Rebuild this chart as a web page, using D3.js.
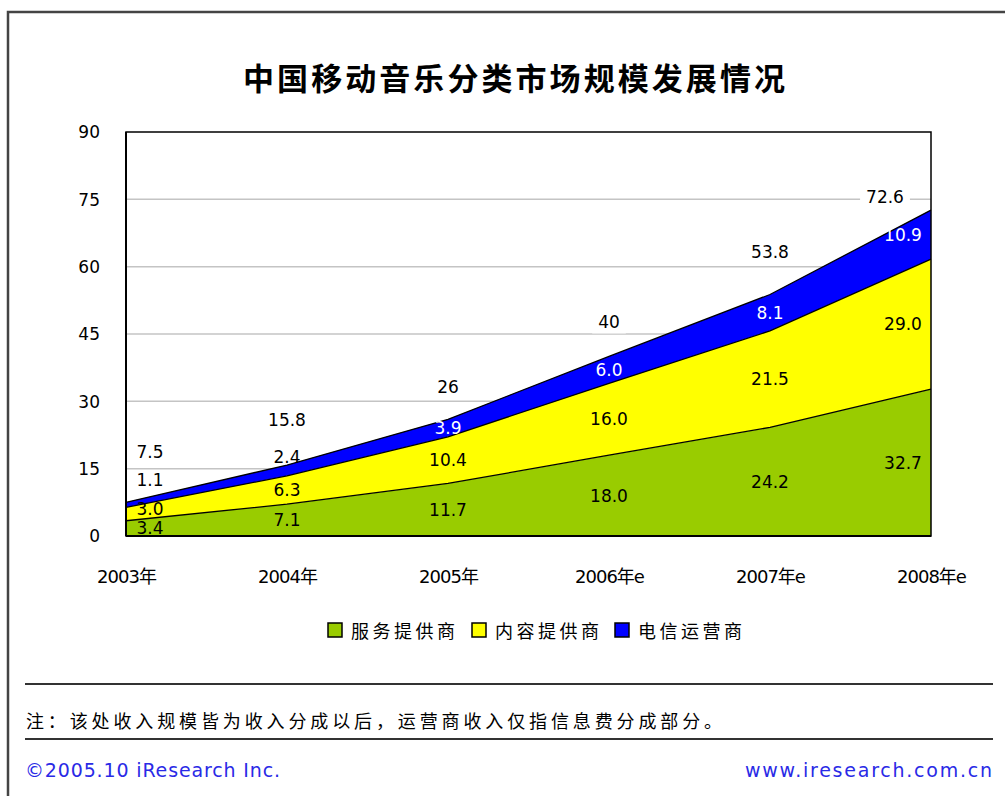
<!DOCTYPE html>
<html>
<head>
<meta charset="utf-8">
<script src="https://cdn.jsdelivr.net/npm/d3@7/dist/d3.min.js"></script>
<style>
  html, body { margin: 0; padding: 0; background: #fff; }
  svg { display: block; }
</style>
</head>
<body>
<svg id="chart" width="1005" height="796"></svg>
<script>
// ---- data ----
const title = "中国移动音乐分类市场规模发展情况";
const categories = ["2003年", "2004年", "2005年", "2006年e", "2007年e", "2008年e"];
const seriesNames = ["服务提供商", "内容提供商", "电信运营商"];
const serviceProvider = [3.4, 7.1, 11.7, 18.0, 24.2, 32.7];
const contentProvider = [3.0, 6.3, 10.4, 16.0, 21.5, 29.0];
const telecomOperator = [1.1, 2.4, 3.9, 6.0, 8.1, 10.9];
const totalLabels = ["7.5", "15.8", "26", "40", "53.8", "72.6"];
const yTicks = [0, 15, 30, 45, 60, 75, 90];
const note = "注：该处收入规模皆为收入分成以后，运营商收入仅指信息费分成部分。";
const copyright = "©2005.10 iResearch Inc.";
const website = "www.iresearch.com.cn";

// ---- layout / style ----
const colors = ["#99CC00", "#FFFF00", "#0000FF"];
const labelColors = ["#000", "#000", "#fff"];
const plot = { left: 126, right: 931, top: 132, bottom: 536 };
// pixel nudges for labels (layout only)
const totalLabelDy = [-50, -45, -32, -34, -42, -13];
const segLabelDy = [[0, 0, 0, 0, 0, 0], [-5, 0, 0, 0, 0, 0], [-25, -13, 0, 0, 0, 0]];
const outsideBand = [[false, false, false, false, false, false],
                     [false, false, false, false, false, false],
                     [true, true, false, false, false, false]];
const labelDx = i => (i === 0 ? 24 : i === categories.length - 1 ? -28 : 0);
const totalDx = i => (i === 0 ? 24 : i === categories.length - 1 ? -46 : 0);

const numFont = "'DejaVu Sans', Verdana, sans-serif";
const cjkFont = "'DejaVu Sans', 'Noto Sans CJK SC', sans-serif";

const svg = d3.select("#chart");
svg.append("rect").attr("width", 1005).attr("height", 796).attr("fill", "#fff");

// outer frame
svg.append("path")
  .attr("d", "M8,796 L8,12 L1005,12")
  .attr("fill", "none").attr("stroke", "#444").attr("stroke-width", 2.5);

// title
svg.append("text")
  .attr("x", 243).attr("y", 76)
  .attr("dominant-baseline", "central")
  .attr("font-family", "'Noto Sans CJK SC', sans-serif")
  .attr("font-weight", "bold").attr("font-size", 31)
  .attr("textLength", 542).attr("lengthAdjust", "spacing")
  .attr("fill", "#000")
  .text(title);

// scales
const x = d3.scalePoint().domain(categories).range([plot.left, plot.right]);
const y = d3.scaleLinear().domain([0, 90]).range([plot.bottom, plot.top]);

// gridlines
svg.append("g").selectAll("line")
  .data(yTicks.filter(t => t > 0 && t < 90))
  .join("line")
  .attr("x1", plot.left).attr("x2", plot.right)
  .attr("y1", d => y(d)).attr("y2", d => y(d))
  .attr("stroke", "#c4c4c4").attr("stroke-width", 1.5);

// stacked areas
const rows = categories.map((c, i) => ({
  cat: c,
  [seriesNames[0]]: serviceProvider[i],
  [seriesNames[1]]: contentProvider[i],
  [seriesNames[2]]: telecomOperator[i]
}));
const stacked = d3.stack().keys(seriesNames)(rows);
const area = d3.area()
  .x(d => x(d.data.cat))
  .y0(d => y(d[0]))
  .y1(d => y(d[1]));
const line = d3.line()
  .x(d => x(d.data.cat))
  .y(d => y(d[1]));

svg.append("g").selectAll("path")
  .data(stacked)
  .join("path")
  .attr("d", area)
  .attr("fill", (d, i) => colors[i]);

svg.append("g").selectAll("path")
  .data(stacked)
  .join("path")
  .attr("d", line)
  .attr("fill", "none").attr("stroke", "#000").attr("stroke-width", 1.3);

// plot border
svg.append("rect")
  .attr("x", plot.left).attr("y", plot.top)
  .attr("width", plot.right - plot.left).attr("height", plot.bottom - plot.top)
  .attr("fill", "none").attr("stroke", "#000").attr("stroke-width", 1.5);
svg.append("line")
  .attr("x1", plot.left).attr("x2", plot.left)
  .attr("y1", plot.top).attr("y2", plot.bottom)
  .attr("stroke", "#000").attr("stroke-width", 2);
svg.append("line")
  .attr("x1", plot.left).attr("x2", plot.right)
  .attr("y1", plot.bottom).attr("y2", plot.bottom)
  .attr("stroke", "#000").attr("stroke-width", 2);

// y axis labels
const yAxis = d3.axisLeft(y).tickValues(yTicks).tickSize(0).tickPadding(0);
const gy = svg.append("g").attr("transform", `translate(${plot.left - 26},0)`).call(yAxis);
gy.select(".domain").remove();
gy.selectAll("text")
  .attr("font-family", numFont).attr("font-size", 17).attr("fill", "#000")
  .attr("dy", "0.35em");

// x axis labels
const xAxis = d3.axisBottom(x).tickSize(0).tickPadding(0);
const gx = svg.append("g").attr("transform", `translate(0,${plot.bottom + 41})`).call(xAxis);
gx.select(".domain").remove();
gx.selectAll("text")
  .attr("font-family", cjkFont).attr("font-size", 18).attr("fill", "#000")
  .attr("dy", "0.35em").attr("letter-spacing", "-1px");

// segment labels
const segLabelData = [];
stacked.forEach((s, si) => {
  s.forEach((d, i) => {
    segLabelData.push({
      x: x(d.data.cat) + labelDx(i),
      y: y((d[0] + d[1]) / 2) + segLabelDy[si][i],
      text: (d[1] - d[0]).toFixed(1),
      color: outsideBand[si][i] ? "#000" : labelColors[si]
    });
  });
});
svg.append("g").selectAll("text")
  .data(segLabelData)
  .join("text")
  .attr("x", d => d.x).attr("y", d => d.y)
  .attr("text-anchor", "middle").attr("dominant-baseline", "central")
  .attr("font-family", numFont).attr("font-size", 17)
  .attr("fill", d => d.color)
  .text(d => d.text);

// total labels with white background
const totals = categories.map((c, i) => serviceProvider[i] + contentProvider[i] + telecomOperator[i]);
const tg = svg.append("g").selectAll("g")
  .data(categories)
  .join("g")
  .attr("transform", (c, i) => `translate(${x(c) + totalDx(i)},${y(totals[i]) + totalLabelDy[i]})`);
tg.append("text")
  .attr("text-anchor", "middle").attr("dominant-baseline", "central")
  .attr("font-family", numFont).attr("font-size", 17).attr("fill", "#000")
  .text((c, i) => totalLabels[i]);
tg.each(function () {
  const g = d3.select(this);
  const bb = g.select("text").node().getBBox();
  g.insert("rect", "text")
    .attr("x", bb.x - 6).attr("y", bb.y - 1)
    .attr("width", bb.width + 12).attr("height", bb.height + 2)
    .attr("fill", "#fff");
});

// legend
const legendX = [328, 472, 615];
const lg = svg.append("g").selectAll("g")
  .data(seriesNames)
  .join("g")
  .attr("transform", (d, i) => `translate(${legendX[i]},630)`);
lg.append("rect")
  .attr("x", 0).attr("y", -7).attr("width", 14).attr("height", 14)
  .attr("fill", (d, i) => colors[i]).attr("stroke", "#000").attr("stroke-width", 1.5);
lg.append("text")
  .attr("x", 23).attr("y", 0)
  .attr("dominant-baseline", "central")
  .attr("font-family", "'Noto Sans CJK SC', sans-serif").attr("font-size", 18)
  .attr("textLength", 104).attr("lengthAdjust", "spacing")
  .attr("fill", "#000")
  .text(d => d);

// footer lines
[684, 739].forEach(yy => {
  svg.append("line")
    .attr("x1", 25).attr("x2", 993).attr("y1", yy).attr("y2", yy)
    .attr("stroke", "#333").attr("stroke-width", 2);
});
svg.append("text")
  .attr("x", 26).attr("y", 720)
  .attr("dominant-baseline", "central")
  .attr("font-family", "'Noto Sans CJK SC', sans-serif").attr("font-size", 18)
  .attr("textLength", 696).attr("lengthAdjust", "spacing")
  .attr("fill", "#000")
  .text(note);
svg.append("text")
  .attr("x", 25).attr("y", 770)
  .attr("dominant-baseline", "central")
  .attr("font-family", numFont).attr("font-size", 19)
  .attr("textLength", 255).attr("lengthAdjust", "spacing")
  .attr("fill", "#2a2ae6")
  .text(copyright);
svg.append("text")
  .attr("x", 745).attr("y", 770)
  .attr("dominant-baseline", "central")
  .attr("font-family", numFont).attr("font-size", 19)
  .attr("textLength", 247).attr("lengthAdjust", "spacing")
  .attr("fill", "#2a2ae6")
  .text(website);
</script>
</body>
</html>
